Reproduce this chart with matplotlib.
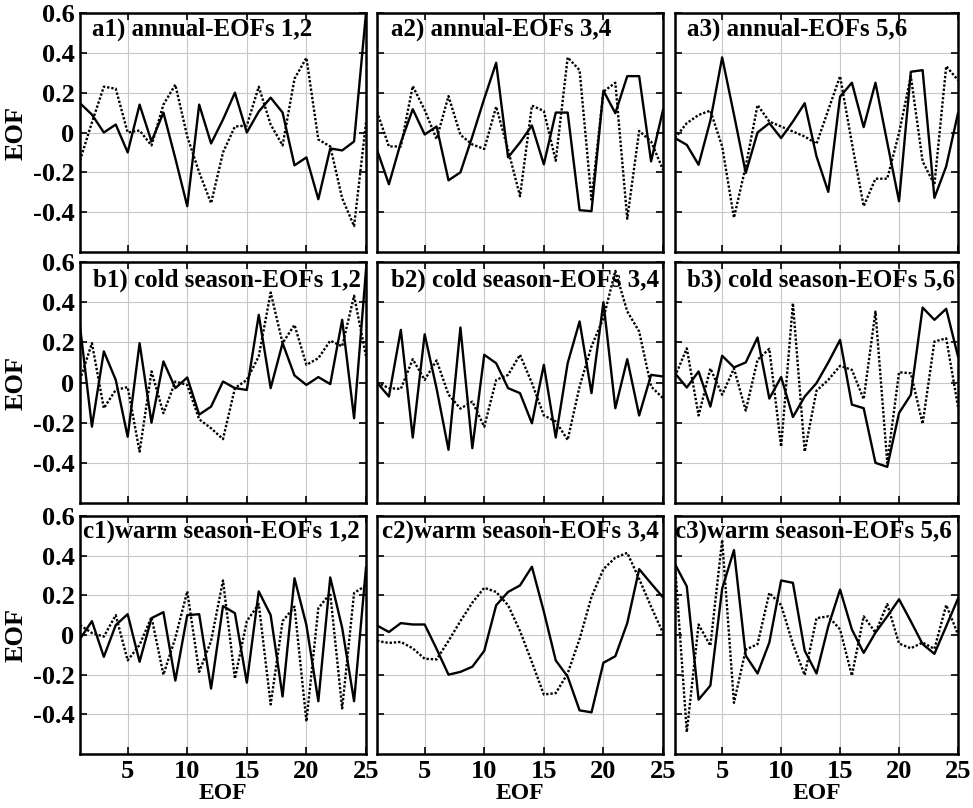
import numpy as np
import matplotlib
matplotlib.use('Agg')
import matplotlib.pyplot as plt

# =============================================================================
# Data, x = 1..25
# =============================================================================

eof_index = np.arange(1, 26)

a1_solid = [0.147, 0.09, 0.0, 0.04, -0.1, 0.14, -0.045, 0.10, -0.13, -0.37, 0.14, -0.055, 0.065,
            0.2, 0.0, 0.105, 0.175, 0.10, -0.165, -0.125, -0.335, -0.08, -0.09, -0.045, 0.6]
a1_dot = [-0.14, 0.05, 0.23, 0.22, 0.0, 0.01, -0.065, 0.14, 0.24, -0.02, -0.2, -0.355, -0.1,
          0.03, 0.035, 0.23, 0.04, -0.065, 0.27, 0.375, -0.035, -0.07, -0.33, -0.47, 0.05]

a2_solid = [-0.087, -0.26, -0.05, 0.117, -0.01, 0.03, -0.24, -0.2, -0.02, 0.17, 0.35, -0.125, -0.05,
            0.035, -0.16, 0.1, 0.1, -0.39, -0.395, 0.21, 0.097, 0.283, 0.283, -0.145, 0.113]
a2_dot = [0.105, -0.07, -0.07, 0.233, 0.113, -0.033, 0.183, -0.012, -0.06, -0.083, 0.13, -0.087, -0.32,
          0.135, 0.108, -0.142, 0.377, 0.313, -0.337, 0.205, 0.25, -0.433, 0.008, -0.045, -0.187]

a3_solid = [-0.028, -0.062, -0.162, 0.06, 0.377, 0.09, -0.203, 0.0, 0.047, -0.028, 0.055, 0.147, -0.12,
            -0.298, 0.18, 0.25, 0.027, 0.25, -0.05, -0.345, 0.305, 0.313, -0.328, -0.17, 0.097]
a3_dot = [-0.028, 0.047, 0.088, 0.11, -0.07, -0.428, -0.17, 0.138, 0.055, 0.03, 0.005, -0.02, -0.057,
          0.113, 0.283, -0.053, -0.37, -0.232, -0.232, -0.003, 0.283, -0.145, -0.262, 0.333, 0.263]

b1_solid = [0.28, -0.22, 0.155, 0.013, -0.27, 0.196, -0.2, 0.105, -0.028, 0.025, -0.16, -0.12, 0.005,
            -0.028, -0.037, 0.337, -0.028, 0.196, 0.035, -0.012, 0.027, -0.008, 0.312, -0.178, 0.56]
b1_dot = [0.013, 0.196, -0.128, -0.037, -0.023, -0.344, 0.055, -0.153, 0.005, -0.012, -0.183, -0.228, -0.282,
          -0.028, 0.013, 0.13, 0.448, 0.196, 0.287, 0.088, 0.121, 0.208, 0.18, 0.432, 0.13]

b2_solid = [0.0, -0.07, 0.262, -0.274, 0.24, -0.03, -0.335, 0.274, -0.327, 0.138, 0.096, -0.028, -0.053,
            -0.203, 0.088, -0.274, 0.096, 0.304, -0.053, 0.4, -0.128, 0.116, -0.164, 0.038, 0.03]
b2_dot = [0.0, -0.028, -0.032, 0.116, 0.013, 0.11, -0.06, -0.13, -0.095, -0.22, 0.013, 0.038, 0.138,
          -0.003, -0.164, -0.194, -0.286, -0.02, 0.18, 0.32, 0.556, 0.354, 0.254, -0.02, -0.078]

b3_solid = [0.046, -0.025, 0.055, -0.12, 0.133, 0.075, 0.1, 0.224, -0.08, 0.027, -0.172, -0.07, -0.003,
            0.1, 0.212, -0.11, -0.128, -0.4, -0.42, -0.152, -0.061, 0.373, 0.312, 0.367, 0.13]
b3_dot = [0.03, 0.17, -0.164, 0.07, -0.061, 0.07, -0.14, 0.113, 0.168, -0.32, 0.395, -0.344, -0.041,
          0.013, 0.083, 0.063, -0.083, 0.353, -0.4, 0.051, 0.046, -0.206, 0.204, 0.22, -0.12]

c1_solid = [-0.02, 0.07, -0.11, 0.05, 0.105, -0.135, 0.085, 0.115, -0.23, 0.1, 0.105, -0.27, 0.146,
            0.11, -0.24, 0.22, 0.1, -0.31, 0.286, 0.05, -0.334, 0.29, 0.036, -0.334, 0.34]
c1_dot = [0.05, 0.01, -0.008, 0.1, -0.128, -0.05, 0.09, -0.2, -0.015, 0.22, -0.186, -0.03, 0.275,
          -0.22, 0.07, 0.156, -0.35, 0.07, 0.143, -0.436, 0.135, 0.21, -0.37, 0.212, 0.25]

c2_solid = [0.048, 0.015, 0.06, 0.053, 0.053, -0.07, -0.2, -0.186, -0.16, -0.08, 0.15, 0.217, 0.25,
            0.344, 0.118, -0.128, -0.21, -0.38, -0.39, -0.14, -0.107, 0.06, 0.332, 0.26, 0.19]
c2_dot = [-0.03, -0.04, -0.035, -0.067, -0.12, -0.123, -0.03, 0.07, 0.163, 0.238, 0.217, 0.15, 0.02,
          -0.137, -0.3, -0.293, -0.194, -0.02, 0.192, 0.332, 0.39, 0.414, 0.283, 0.143, 0.01]

c3_solid = [0.357, 0.245, -0.326, -0.255, 0.234, 0.428, -0.104, -0.194, -0.038, 0.275, 0.263, -0.079, -0.194,
            0.044, 0.229, 0.028, -0.09, 0.012, 0.094, 0.18, 0.069, -0.046, -0.095, 0.044, 0.184]
c3_dot = [0.357, -0.49, 0.053, -0.054, 0.48, -0.342, -0.074, -0.046, 0.212, 0.151, -0.046, -0.202, 0.085,
          0.094, 0.028, -0.205, 0.094, 0.012, 0.156, -0.043, -0.067, -0.038, -0.07, 0.151, 0.003]

titles = [['a1) annual-EOFs 1,2', 'a2) annual-EOFs 3,4', 'a3) annual-EOFs 5,6'],
          ['b1) cold season-EOFs 1,2', 'b2) cold season-EOFs 3,4', 'b3) cold season-EOFs 5,6'],
          ['c1)warm season-EOFs 1,2', 'c2)warm season-EOFs 3,4', 'c3)warm season-EOFs 5,6']]

solid = [[a1_solid, a2_solid, a3_solid], [b1_solid, b2_solid, b3_solid], [c1_solid, c2_solid, c3_solid]]
dotted = [[a1_dot, a2_dot, a3_dot], [b1_dot, b2_dot, b3_dot], [c1_dot, c2_dot, c3_dot]]

yticks = [-0.4, -0.2, 0, 0.2, 0.4, 0.6]
ytick_labels = ['-0.4', '-0.2', '0', '0.2', '0.4', '0.6']
xticks = [5, 10, 15, 20, 25]

# =============================================================================
# Figure layout (pixel measurements from reference, 973x808)
# =============================================================================

plt.rcParams['font.family'] = 'Liberation Serif'
plt.rcParams['font.weight'] = 'bold'

W, H = 973, 808
fig = plt.figure(figsize=(W / 100, H / 100), dpi=100)

col_lr = [(80, 366), (377, 663), (675, 958)]
row_tb = [(13, 252), (262, 503), (516, 754)]
title_dx = [[12, 14, 12], [13, 14, 12], [3, 5, 0]]
title_dy = [5, 7, 5]

for r in range(3):
    for c in range(3):
        l, rt = col_lr[c]
        t, b = row_tb[r]
        ax = fig.add_axes([l / W, 1 - b / H, (rt - l) / W, (b - t) / H])

        ax.plot(eof_index, solid[r][c], color='black', lw=1.7, ls='-')
        ax.plot(eof_index, dotted[r][c], color='black', lw=1.7, ls=(0, (1, 0.8)))

        ax.set_xlim(1, 25)
        ax.set_ylim(-0.6, 0.6)
        ax.set_xticks(xticks)
        ax.set_yticks(yticks)
        ax.grid(True, color='#c8c8c8', lw=0.8)
        ax.tick_params(direction='in', top=True, right=True, length=5, width=1.2,
                       labelsize=19, pad=4)
        for sp in ax.spines.values():
            sp.set_linewidth(1.8)

        if c == 0:
            ax.set_yticklabels(ytick_labels, fontweight='bold')
            ax.set_ylabel('EOF', fontsize=19, fontweight='bold', labelpad=4)
        else:
            ax.set_yticklabels([])
        if r == 2:
            ax.set_xticklabels([str(v) for v in xticks], fontweight='bold')
            ax.set_xlabel('EOF', fontsize=17, fontweight='bold', labelpad=0)
        else:
            ax.set_xticklabels([])

        ax.text(title_dx[r][c] / (rt - l), 1 - title_dy[r] / (b - t), titles[r][c],
                transform=ax.transAxes, ha='left', va='top', fontsize=18, fontweight='bold')

plt.savefig('out.png', dpi=100)
